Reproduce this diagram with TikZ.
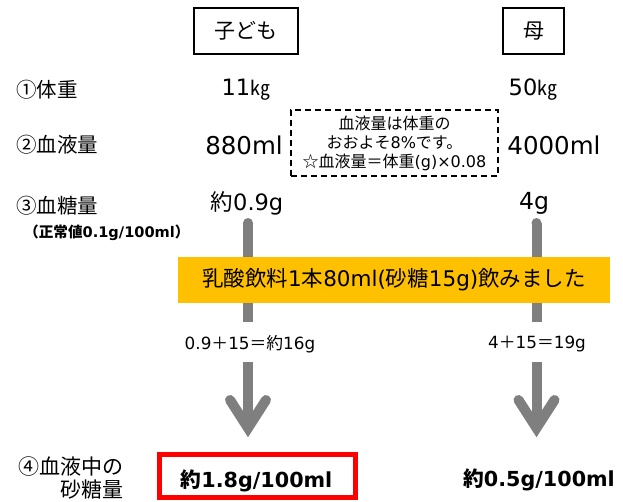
\documentclass[tikz,border=0pt]{standalone}
\usepackage{fontspec}
\usetikzlibrary{calc}
\setmainfont{Noto Sans CJK JP}
\newfontfamily\lat{DejaVu Sans}
\newcommand{\latx}[1]{{\lat #1}}
\definecolor{arrowgray}{HTML}{7F7F7F}
\definecolor{gold}{HTML}{FFC000}
\definecolor{redbox}{HTML}{FF0000}
\begin{document}
\begin{tikzpicture}[x=1pt,y=-1pt,
  headbox/.style={draw=black,line width=2.5pt,minimum width=#1,minimum height=46pt,inner sep=0pt,font=\fontsize{21}{24}\selectfont},
  rowlabel/.style={anchor=west,inner sep=0pt,font=\fontsize{20.5}{24}\selectfont},
  val/.style={inner sep=0pt,font=\fontsize{22.5}{26}\selectfont},
  calc/.style={inner sep=0pt,font=\fontsize{16.8}{20}\selectfont},
  result/.style={inner sep=0pt,font=\bfseries\fontsize{20.7}{24}\selectfont},
  shaft/.style={draw=arrowgray,line width=10pt},
  vhead/.style={draw=arrowgray,line width=10pt,line cap=round,line join=miter}]
\useasboundingbox (0,0) rectangle (623,502);
% header boxes
\node[headbox=104pt] (child) at (246,31) {子ども};
\node[headbox=61pt] (mother) at (533.5,31) {母};
% row labels
\node[rowlabel] (l1) at (16,90) {①体重};
\node[rowlabel] (l2) at (16,145) {②血液量};
\node[rowlabel] (l3) at (16,206) {③血糖量};
\node[anchor=west,inner sep=0pt,font=\bfseries\fontsize{14.6}{17}\selectfont] (normal) at (24,233) {（正常値\latx{0.1g/100ml}）};
% values
\node[val] (c1) at (246,90) {\latx{11}{\fontsize{20}{24}\selectfont ㎏}};
\node[val] (m1) at (533,90) {\latx{50}{\fontsize{20}{24}\selectfont ㎏}};
\node[val,font=\fontsize{24.5}{28}\selectfont] (c2) at (244,145) {\latx{880ml}};
\node[val,font=\fontsize{24.5}{28}\selectfont] (m2) at (554,145) {\latx{4000ml}};
\node[val] (c3) at (247,203) {約\latx{0.9g}};
\node[val,font=\fontsize{23.5}{28}\selectfont] (m3) at (534,203) {\latx{4g}};
% note
\node[draw=black,line width=1.5pt,dash pattern=on 6pt off 4pt,minimum width=207pt,minimum height=66pt,inner sep=0pt,align=center,font=\fontsize{16}{19}\selectfont] (note) at (394.5,143)
  {血液量は体重の\\おおよそ\latx{8\%}です。\\☆血液量＝体重\latx{(g)×0.08}};
% arrows upper parts
\coordinate (ctop) at (248,223);
\coordinate (cmid) at (248,322);
\coordinate (mtop) at (536.5,223);
\coordinate (mmid) at (536.5,322);
\fill[arrowgray] (ctop) circle (5pt);
\fill[arrowgray] (mtop) circle (5pt);
\draw[shaft] (ctop) -- (cmid);
\draw[shaft] (mtop) -- (mmid);
% orange band
\node[fill=gold,minimum width=432pt,minimum height=46pt,inner sep=0pt,font=\fontsize{21.5}{24}\selectfont] (drink) at (394,280) {乳酸飲料\latx{1}本\latx{80ml(}砂糖\latx{15g)}飲みました};
% calc labels
\node[calc] (cc) at (250,344) {\latx{0.9}＋\latx{15}＝約\latx{16g}};
\node[calc] (mc) at (537,344) {\latx{4}＋\latx{15}＝\latx{19g}};
% lower arrows
\coordinate (cs) at (248,362);
\coordinate (ce) at (248,426);
\coordinate (ct) at (248,428);
\coordinate (ms) at (536.5,362);
\coordinate (me) at (536.5,426);
\coordinate (mt) at (536.5,428);
\draw[shaft] (cs) -- (ce);
\draw[shaft] (ms) -- (me);
\draw[vhead] ($(ct)+(-18,-28)$) -- (ct) -- ($(ct)+(18,-28)$);
\draw[vhead] ($(mt)+(-18,-28)$) -- (mt) -- ($(mt)+(18,-28)$);
% bottom row
\node[anchor=east,inner sep=0pt,align=right,font=\fontsize{21}{23}\selectfont] (l4) at (124,478) {④血液中の\\砂糖量};
\draw[redbox,line width=5pt] (159.5,454.5) rectangle (355.5,497.5);
\node[result] (cr) at (256.5,481) {約\latx{1.8g/100ml}};
\node[result] (mr) at (539,480) {約\latx{0.5g/100ml}};
\end{tikzpicture}
\end{document}
